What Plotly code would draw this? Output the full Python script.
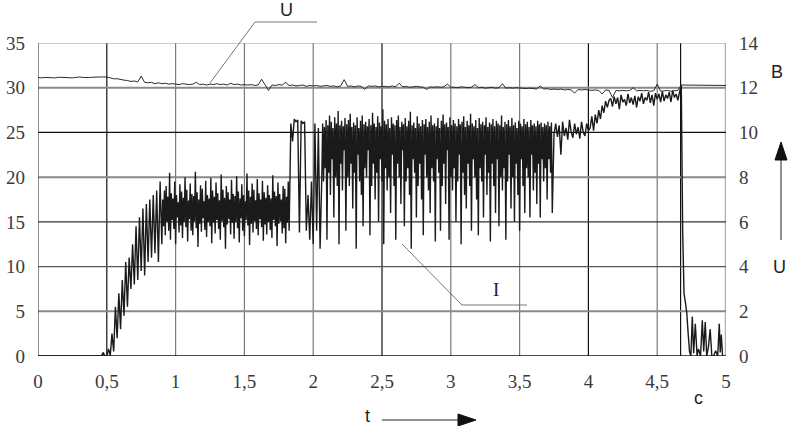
import numpy as np
import plotly.graph_objects as go

# ---------------- data ----------------
# current I (left axis, A); segments sampled at their own step, starting at T0
T0 = 0.5

I_start_t = [0.0, 0.1, 0.2, 0.3, 0.4, 0.46, 0.475, 0.485]
I_start = [0, 0, 0, 0, 0, 0, 0.4, 0]

I_rise = [0, 0.8, 0, 2.5, 0.5, 5.5, 2.0, 7.0, 3.0, 8.5,
          4.5, 10.5, 5.5, 11.0, 7.5, 12.5, 8.0, 14.5, 8.5, 15.5,
          9.5, 16.5, 9.0, 17.0, 10.5, 17.5, 11.0, 18.0, 11.5, 18.5,
          10.5, 19.5, 12.5]

I_band1 = [17.5, 14.5, 18.5, 13.5, 19.0, 15.0, 17.8, 14.0, 20.5, 13.0,
           18.2, 15.2, 17.6, 14.2, 19.5, 12.5, 18.0, 15.5, 17.2, 13.8,
           19.2, 14.6, 18.4, 13.2, 17.7, 15.0, 20.0, 14.4, 18.6, 12.8,
           17.4, 15.3, 19.3, 14.0, 18.1, 13.5, 17.9, 15.1, 20.6, 14.3,
           18.3, 12.2, 17.5, 14.8, 19.1, 13.9, 18.7, 15.4, 17.3, 14.1,
           19.6, 13.3, 18.0, 15.0, 17.6, 14.5, 19.9, 12.6, 18.5, 14.9,
           17.8, 13.7, 19.4, 15.2, 18.2, 14.2, 17.4, 13.0, 20.3, 15.1,
           18.6, 14.4, 17.7, 12.0, 19.0, 14.7, 18.3, 15.3, 17.5, 13.6,
           19.7, 14.9, 18.1, 13.1, 17.9, 15.0, 20.1, 14.3, 18.4, 12.7,
           17.6, 15.4, 19.2, 14.0, 18.0, 13.4, 17.3, 15.2, 20.4, 14.6,
           18.5, 12.4, 17.8, 14.8, 19.3, 13.8, 18.6, 15.1, 17.4, 14.2,
           19.8, 13.5, 18.2, 15.3, 17.5, 14.4, 19.6, 12.9, 18.3, 14.7,
           17.7, 13.6, 19.1, 15.0, 18.0, 14.1, 17.6, 13.2, 20.2, 15.2,
           18.4, 14.5, 17.9, 12.3, 19.4, 14.8,
           18.1, 15.1, 17.5, 13.7, 19.0, 14.3, 18.7, 12.6, 17.8, 14.9,
           19.5, 14.0]

I_jump = [26.0, 24.0, 26.5, 26.2, 26.4, 13.8, 26.3, 26.0, 26.2, 14.0, 18.0]

I_mix = [13.0, 19.5, 12.5, 26.0, 14.0, 25.5, 12.0, 20.0]

I_dense = [26.0, 19.5, 25.6, 21.0, 26.4, 13.0, 25.8, 20.5, 26.9, 18.0,
           26.2, 22.0, 25.5, 15.5, 26.7, 20.0, 26.0, 19.0, 27.4, 12.5,
           25.8, 21.5, 26.3, 18.5, 25.7, 23.0, 26.6, 14.0, 25.9, 20.0,
           26.4, 19.0, 27.1, 21.5, 25.6, 16.5, 26.1, 20.5, 25.8, 12.0,
           26.7, 22.5, 25.5, 19.5, 26.3, 18.0, 26.9, 14.5, 25.9, 21.0,
           26.2, 20.0, 25.7, 23.0, 26.5, 13.5, 25.8, 19.0, 27.2, 21.5,
           26.0, 17.5, 25.6, 20.5, 26.8, 15.0, 26.1, 22.0, 25.7, 19.5,
           27.6, 12.5, 26.3, 21.0, 25.9, 18.5, 26.5, 20.0, 25.5, 16.0,
           26.7, 22.5, 26.0, 19.0, 25.8, 13.0, 26.4, 21.5, 26.9, 20.0,
           25.6, 17.0, 26.2, 23.0, 25.9, 14.5, 26.6, 19.5, 25.7, 21.0,
           26.3, 18.0, 27.3, 12.0, 25.8, 22.0, 26.1, 20.5, 25.5, 15.5,
           26.8, 19.0, 26.0, 21.5, 25.7, 17.5, 26.4, 13.5, 25.9, 22.5,
           26.5, 20.0, 25.6, 18.5, 26.2, 16.0, 26.9, 21.0, 25.8, 19.5,
           26.0, 12.8, 25.7, 22.0, 26.6, 20.5, 25.5, 14.0, 26.3, 19.0,
           27.0, 21.5, 25.9, 17.0, 26.1, 23.0, 25.6, 13.0, 26.7, 20.0,
           25.8, 18.5, 26.4, 21.0, 26.0, 15.0, 25.7, 19.5, 26.5, 22.5,
           25.9, 12.5, 26.2, 20.5, 26.8, 18.0, 25.6, 16.5, 26.3, 21.5,
           25.8, 19.0, 27.1, 14.0, 26.0, 22.0, 25.7, 20.0, 26.4, 17.5,
           25.5, 13.5, 26.6, 21.0, 25.9, 19.5, 26.2, 15.5, 25.8, 22.5,
           26.7, 18.0, 25.6, 20.5, 26.1, 12.8, 25.9, 21.5, 26.5, 19.0,
           25.7, 16.0, 26.3, 22.0, 26.0, 14.5, 25.8, 20.0, 26.9, 18.5,
           25.6, 21.0, 26.2, 13.0, 25.9, 19.5, 26.4, 22.5, 25.7, 16.5,
           26.6, 20.0, 25.8, 15.0, 26.1, 21.5, 25.5, 18.0, 26.3, 14.0,
           26.0, 22.0, 25.7, 19.0, 26.5, 16.0, 25.9, 21.0, 26.2, 20.0,
           25.6, 15.5, 26.4, 22.5, 25.8, 18.5, 26.0, 20.5, 25.7, 17.0,
           26.3, 21.5, 25.9, 15.5, 26.1, 22.0, 25.6, 19.5, 26.0, 21.0,
           25.8, 17.5, 26.2, 22.0, 25.7, 20.5, 26.1, 16.0]

I_high1 = [24.8, 26.0, 24.5, 25.8, 22.5, 26.2, 24.6, 25.5, 24.2, 26.4,
           25.0, 24.4, 26.0, 24.8, 25.6, 24.3, 26.2, 25.0, 24.6, 26.0, 25.2]

I_climb = [25.5, 26.8, 25.2, 27.0, 26.0, 27.5, 26.5, 28.0, 27.2, 28.5, 27.8, 28.6]

I_high2 = [28.8, 27.9, 29.0, 28.2, 28.9, 27.6, 29.2, 28.4, 28.7, 28.0,
           29.3, 28.3, 28.9, 28.1, 29.1, 27.8, 29.0, 28.5, 29.4, 28.2,
           28.9, 28.6, 29.5, 28.3, 29.2, 28.0, 29.4, 28.7, 29.3, 28.4,
           29.6, 28.5, 29.2, 28.8, 29.5, 28.4, 29.7, 28.9, 29.3, 28.6, 29.5]

# sampling step of each segment (s)
SEG_DT = [0.0125, 0.00625, 0.0125, 0.0125, 0.00625, 0.0125, 0.0125, 0.0125]

I_tail_t = [4.675, 4.685, 4.695, 4.705, 4.715, 4.725, 4.735, 4.745, 4.755, 4.765,
            4.777, 4.79, 4.80, 4.815, 4.828, 4.838, 4.849, 4.86, 4.872, 4.885,
            4.897, 4.91, 4.925, 4.94, 4.951, 4.958, 4.966, 4.975]
I_tail = [30.3, 14.0, 7.0, 6.0, 4.8, 2.5, 0.5, 0, 4.4, 0.3,
          3.6, 0, 0.8, 0, 4.0, 0.5, 3.8, 0, 1.0, 3.0,
          0, 0, 0.6, 0, 3.6, 0.4, 2.4, 0]

# voltage U (right axis, volts), sampled every U_DT seconds from 0
U_DT = 0.025
U_volts = [12.46, 12.44, 12.46, 12.45, 12.46, 12.44, 12.47, 12.46, 12.45, 12.46,
           12.44, 12.46, 12.48, 12.46, 12.45, 12.46, 12.47, 12.46, 12.48, 12.48,
           12.48,
           12.44, 12.40, 12.40, 12.36, 12.34, 12.32, 12.28, 12.30, 12.26, 12.52,
           12.24, 12.22, 12.24, 12.18, 12.22, 12.18, 12.20, 12.16, 12.18,
           12.16,
           12.14, 12.18, 12.16, 12.14, 12.16, 12.24, 12.14, 12.16, 12.12, 12.16,
           12.14, 12.18, 12.14, 12.16, 12.12, 12.20, 12.14, 12.16, 12.12, 12.14,
           12.12, 12.14, 12.10, 12.12, 12.38, 12.12, 11.88, 12.12, 12.10, 12.14,
           12.12, 12.24, 12.10, 12.12, 12.08, 12.10, 12.12, 12.06, 12.10, 12.08,
           12.10, 12.06, 12.08, 12.10, 12.06, 12.08, 12.04, 12.08, 12.36, 12.06,
           12.08, 12.04, 12.08, 12.06, 11.92, 12.08, 12.06, 12.08, 12.04, 12.06,
           12.06, 12.04, 12.08, 12.04, 12.20, 12.04, 12.06, 12.02, 12.04, 12.06,
           12.04, 12.02, 11.92, 12.04, 12.02, 12.04, 12.02, 12.04, 12.16, 12.02,
           12.02, 12.00, 12.04, 12.02, 12.00, 12.02, 12.14, 12.00, 12.02, 11.98,
           12.00, 12.02, 11.98, 12.00, 12.18, 11.98, 12.00, 11.98, 12.00, 11.98,
           11.98, 11.96, 11.98, 11.96, 11.94, 12.08, 11.94, 11.96, 11.92, 11.94,
           11.92, 11.94, 11.90, 11.92, 11.90, 11.76, 11.92, 11.90, 11.92, 11.90,
           11.88, 11.90, 11.88, 11.72, 11.90, 11.88, 11.56, 11.88, 11.86, 11.88,
           11.86, 11.88, 12.00, 11.86, 11.88, 11.86, 11.88, 11.84, 11.86, 12.16,
           11.84, 11.86, 11.88, 11.84, 11.86, 11.88,
           12.12,
           12.12, 12.10, 12.12, 12.12, 12.10, 12.12, 12.12, 12.10, 12.12, 12.10,
           12.12, 12.10, 12.10]

# axis ticks
X_TICKS = [0, 0.5, 1, 1.5, 2, 2.5, 3, 3.5, 4, 4.5, 5]
I_TICKS = [0, 5, 10, 15, 20, 25, 30, 35]
U_TICKS = [0, 2, 4, 6, 8, 10, 12, 14]
T_MARK = 4.67  # switch-off moment (vertical marker)

# ---------------- build ----------------
segs = [I_rise, I_band1, I_jump, I_mix, I_dense, I_high1, I_climb, I_high2]
I_main = np.concatenate(segs)
dts = np.concatenate([np.full(len(s), d) for s, d in zip(segs, SEG_DT)])
t_main = T0 + np.cumsum(dts) - dts[0]
t_I = np.concatenate([I_start_t, t_main, I_tail_t])
I_all = np.concatenate([I_start, I_main, I_tail])
t_U = U_DT * np.arange(len(U_volts))

fig = go.Figure()
fig.add_trace(go.Scatter(x=t_U, y=U_volts, mode="lines", yaxis="y2",
                         line=dict(color="#2b2b2b", width=1), showlegend=False))
fig.add_trace(go.Scatter(x=t_I, y=I_all, mode="lines",
                         line=dict(color="#1a1a1a", width=1.4, simplify=False),
                         showlegend=False))

shapes = []
dark_x = {0.5, 2.5, 4}
for xv in X_TICKS[1:]:
    if xv == 5:
        st = dict(color="#b0b0b0", width=2.5)
    elif xv in dark_x:
        st = dict(color="#111111", width=1.2)
    else:
        st = dict(color="#7a7a7a", width=1.2)
    shapes.append(dict(type="line", xref="x", yref="y", x0=xv, x1=xv, y0=0, y1=35,
                       line=st, layer="below"))
shapes.append(dict(type="line", xref="x", yref="y", x0=T_MARK, x1=T_MARK, y0=0, y1=35,
                   line=dict(color="#111111", width=1.2), layer="below"))
h_style = {35: ("#9a9a9a", 1.2), 30: ("#8a8a8a", 2), 25: ("#111111", 1.2),
           20: ("#8a8a8a", 2), 15: ("#333333", 1.2), 10: ("#555555", 1.2),
           5: ("#8a8a8a", 2), 0: ("#111111", 1.5)}
for yv in I_TICKS:
    c, w = h_style[yv]
    shapes.append(dict(type="line", xref="x", yref="y", x0=0, x1=5, y0=yv, y1=yv,
                       line=dict(color=c, width=w), layer="below"))
shapes.append(dict(type="line", xref="x", yref="y", x0=0, x1=0, y0=0, y1=35,
                   line=dict(color="#444444", width=1.2), layer="below"))

# pixel -> paper helpers for annotation graphics
L, R, T, B = 38, 726, 43, 356
def px(x):
    return (x - L) / (R - L)
def py(y):
    return (B - y) / (B - T)

lead = dict(color="#555555", width=0.8)
# U leader
shapes.append(dict(type="line", xref="paper", yref="paper", x0=px(255), y0=py(22),
                   x1=px(317), y1=py(22), line=lead))
shapes.append(dict(type="line", xref="paper", yref="paper", x0=px(255), y0=py(22),
                   x1=px(210), y1=py(83), line=lead))
# I leader
shapes.append(dict(type="line", xref="paper", yref="paper", x0=px(402), y0=py(244),
                   x1=px(462), y1=py(305), line=lead))
shapes.append(dict(type="line", xref="paper", yref="paper", x0=px(462), y0=py(305),
                   x1=px(527), y1=py(305), line=lead))
# right vertical arrow
shapes.append(dict(type="line", xref="paper", yref="paper", x0=px(781), y0=py(240),
                   x1=px(781), y1=py(155), line=dict(color="#222", width=1)))
shapes.append(dict(type="path", xref="paper", yref="paper",
                   path=f"M {px(781)} {py(142)} L {px(775)} {py(160)} L {px(787)} {py(160)} Z",
                   fillcolor="#111", line=dict(color="#111", width=1)))
# bottom horizontal arrow
shapes.append(dict(type="line", xref="paper", yref="paper", x0=px(382), y0=py(420),
                   x1=px(462), y1=py(420), line=dict(color="#222", width=1)))
shapes.append(dict(type="path", xref="paper", yref="paper",
                   path=f"M {px(476)} {py(420)} L {px(458)} {py(414)} L {px(458)} {py(426)} Z",
                   fillcolor="#111", line=dict(color="#111", width=1)))

sans = "Liberation Sans"
serif = "Liberation Serif"
ann = [
    dict(x=px(286), y=py(10), text="U", font=dict(family=sans, size=18, color="#222")),
    dict(x=px(496), y=py(289), text="I", font=dict(family=serif, size=19, color="#222")),
    dict(x=px(777), y=py(72), text="B", font=dict(family=sans, size=18, color="#222")),
    dict(x=px(779), y=py(267), text="U", font=dict(family=sans, size=18, color="#222")),
    dict(x=px(367), y=py(416), text="t", font=dict(family=sans, size=18, color="#222")),
    dict(x=px(698), y=py(398), text="c", font=dict(family=sans, size=18, color="#222")),
]
for a in ann:
    a.update(xref="paper", yref="paper", showarrow=False, xanchor="center", yanchor="middle")

tickfont = dict(family=serif, size=19, color="#3a3a3a")
fig.update_layout(
    width=788, height=426,
    margin=dict(l=L, r=788 - R, t=T, b=426 - B, autoexpand=False),
    paper_bgcolor="white", plot_bgcolor="white",
    separators=", ",
    shapes=shapes, annotations=ann,
    xaxis=dict(range=[0, 5], tickvals=X_TICKS, showgrid=False, zeroline=False,
               showline=False, ticks="", tickfont=tickfont, ticklabelstandoff=12,
               automargin=False),
    yaxis=dict(range=[0, 35], tickvals=I_TICKS, showgrid=False, zeroline=False,
               showline=False, ticks="", tickfont=tickfont, ticklabelstandoff=12,
               automargin=False),
    yaxis2=dict(range=[0, 14], tickvals=U_TICKS, overlaying="y", side="right",
                showgrid=False, zeroline=False, showline=False, ticks="",
                tickfont=tickfont, ticklabelstandoff=12, automargin=False),
)

fig.write_html("out.html", config={"displayModeBar": False},
               post_script="document.body.style.margin='0';document.body.style.overflow='hidden';")
